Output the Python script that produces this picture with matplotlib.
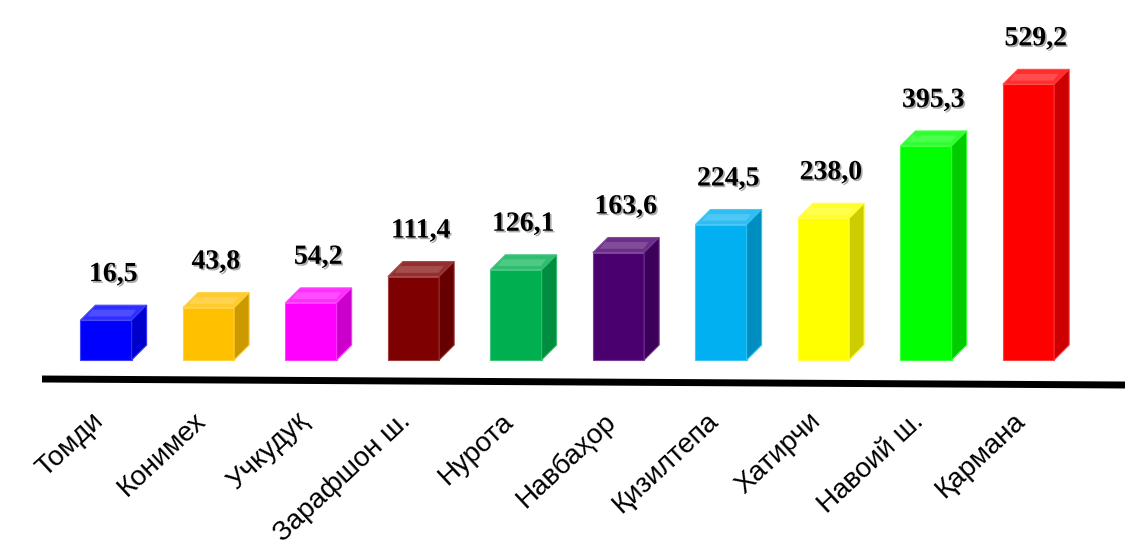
import numpy as np
import matplotlib
matplotlib.use('Agg')
import matplotlib.pyplot as plt
import matplotlib.colors as mcolors
import matplotlib.patheffects as pe
from matplotlib.patches import Polygon

# Data
districts = ['Томди', 'Конимех', 'Учкудуқ', 'Зарафшон ш.', 'Нурота',
             'Навбаҳор', 'Қизилтепа', 'Хатирчи', 'Навоий ш.', 'Қармана']
values = [16.5, 43.8, 54.2, 111.4, 126.1, 163.6, 224.5, 238.0, 395.3, 529.2]
labels = ['16,5', '43,8', '54,2', '111,4', '126,1', '163,6', '224,5', '238,0', '395,3', '529,2']
colors = ['#0000FF', '#FFC000', '#FF00FF', '#7F0000', '#00B050',
          '#4B0070', '#00B0F0', '#FFFF00', '#00FF00', '#FF0000']

def shade(c, f):
    '''darken (f<1) or lighten (f>1) a colour'''
    r, g, b = mcolors.to_rgb(c)
    if f < 1:
        return (r*f, g*f, b*f)
    t = f - 1
    return (r+(1-r)*t, g+(1-g)*t, b+(1-b)*t)

#Layout constants (pixels of the 1125x540 output)
W_PX, H_PX = 1125, 540
step_px = 102.5
first_px = 106
scale = 0.46          # px per data unit
base = 70             # bars start below zero like in the original
bottom_px = 360       # bar bottom, from top
depth_px = 15

fig = plt.figure(figsize=(11.25, 5.4), dpi=100)
ax = fig.add_axes([0, 0, 1, 1])
xmin = -first_px/step_px
ax.set_xlim(xmin, xmin + W_PX/step_px)
ymin = -base - (H_PX-bottom_px)/scale
ax.set_ylim(ymin, ymin + H_PX/scale)
ax.axis('off')

x = np.arange(len(values))
vals = np.array(values)
width = 0.5
dx = depth_px/step_px
dy = depth_px/scale

#Front faces
ax.bar(x, vals+base, bottom=-base, width=width, color=colors,
       edgecolor=[shade(c, 1.25) for c in colors], linewidth=0.8, zorder=3)

#Top and side faces
for xi, v, c in zip(x, vals, colors):
    x0, x1 = xi-width/2, xi+width/2
    top = Polygon([(x0, v), (x0+dx, v+dy), (x1+dx, v+dy), (x1, v)],
                  closed=True, facecolor=shade(c, 1.18), edgecolor=shade(c, 1.3),
                  linewidth=0.8, zorder=3)
    side = Polygon([(x1, -base), (x1, v), (x1+dx, v+dy), (x1+dx, -base+dy)],
                   closed=True, facecolor=shade(c, 0.8), edgecolor=shade(c, 1.2),
                   linewidth=0.8, zorder=3)
    ax.add_patch(top)
    ax.add_patch(side)
    #Highlight on top face
    hl = Polygon([(x0+dx*0.45, v+dy*0.25), (x0+dx*0.8, v+dy*0.7),
                  (x1+dx*0.3, v+dy*0.7), (x1-dx*0.05, v+dy*0.25)],
                 closed=True, facecolor=shade(c, 1.3), edgecolor='none', zorder=4)
    ax.add_patch(hl)

#Value labels
for xi, v, lab in zip(x, vals, labels):
    ax.annotate(lab, (xi+0.07, v+dy), xytext=(0, 13), textcoords='offset points',
                ha='center', va='bottom', fontsize=20, fontweight='bold',
                family='Liberation Serif', color='black', zorder=5,
                path_effects=[pe.withSimplePatchShadow(offset=(1.2, -1.2),
                                                       shadow_rgbFace='0.45', alpha=0.6)])

#Base line
ax.plot([42/W_PX, 1.0], [1-379/H_PX, 1-385/H_PX], color='black', linewidth=5,
        transform=ax.transAxes, solid_capstyle='butt', zorder=2)

#Category labels
lab_y = ymin + (H_PX-408)/scale
for xi, name in zip(x, districts):
    ax.text(xi-0.15, lab_y, name, rotation=43, rotation_mode='anchor',
            ha='right', va='top', fontsize=20, family='Liberation Sans', color='black')

fig.savefig('out.png', dpi=100)
